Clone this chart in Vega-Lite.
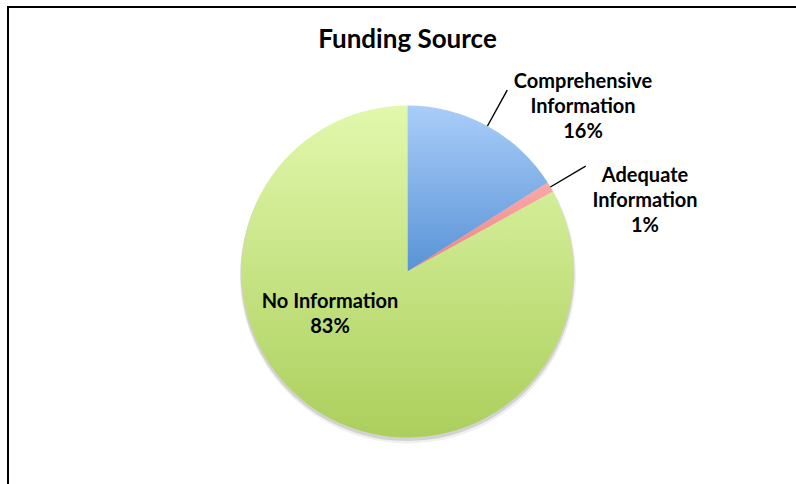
{
  "$schema": "https://vega.github.io/schema/vega-lite/v6.json",
  "width": 788,
  "height": 477,
  "autosize": {"type": "none"},
  "padding": {"left": 8, "top": 7, "right": 0, "bottom": 0},
  "background": "white",
  "view": {"stroke": "black", "strokeWidth": 2, "strokeCap": "square", "strokeDash": [788, 1265, 477, 0]},
  "title": {
    "text": "Funding Source",
    "font": "Lato",
    "fontSize": 26,
    "fontWeight": "bold",
    "color": "black",
    "anchor": "middle",
    "frame": "group",
    "baseline": "alphabetic",
    "offset": -67,
    "dx": 5.5
  },
  "data": {
    "values": [
      {"name": "Comprehensive Information", "value": 16, "order": 1},
      {"name": "Adequate Information", "value": 1, "order": 2},
      {"name": "No Information", "value": 83, "order": 3}
    ]
  },
  "transform": [
    {"window": [{"op": "sum", "field": "value", "as": "cum"}], "sort": [{"field": "order"}], "frame": [null, 0]},
    {"calculate": "datum.cum - datum.value / 2", "as": "mid"},
    {"calculate": "datum.name + ' ' + datum.value + '%'", "as": "label"},
    {"calculate": "datum.name + '|' + datum.value + '%'", "as": "label2"}
  ],
  "layer": [
    {
      "mark": {"type": "arc", "radius": 168, "x": {"expr": "width/2+6"}, "y": {"expr": "height/2+30"}, "fill": "#000000", "opacity": 0.06, "strokeWidth": 0},
      "encoding": {
        "theta": {"field": "value", "type": "quantitative", "stack": true, "scale": {"domain": [0, 100]}},
        "order": {"field": "order"}
      }
    },
    {
      "mark": {"type": "arc", "radius": 167, "x": {"expr": "width/2+5.5"}, "y": {"expr": "height/2+28.5"}, "fill": "#000000", "opacity": 0.12, "strokeWidth": 0},
      "encoding": {
        "theta": {"field": "value", "type": "quantitative", "stack": true, "scale": {"domain": [0, 100]}},
        "order": {"field": "order"}
      }
    },
    {
      "mark": {"type": "arc", "radius": 166, "x": {"expr": "width/2+5.5"}, "y": {"expr": "height/2+26"}, "strokeWidth": 0},
      "encoding": {
        "theta": {"field": "value", "type": "quantitative", "stack": true, "scale": {"domain": [0, 100]}},
        "order": {"field": "order"},
        "color": {
          "condition": [
            {"test": "datum.name === 'Comprehensive Information'", "value": {"gradient": "linear", "x1": 0, "y1": 0, "x2": 0, "y2": 1, "stops": [{"offset": 0, "color": "#aacdf9"}, {"offset": 1, "color": "#5893d6"}]}},
            {"test": "datum.name === 'Adequate Information'", "value": {"gradient": "linear", "x1": 0, "y1": 0, "x2": 0, "y2": 1, "stops": [{"offset": 0, "color": "#fba8a8"}, {"offset": 1, "color": "#ec8282"}]}}
          ],
          "value": {"gradient": "linear", "x1": 0, "y1": 0, "x2": 0, "y2": 1, "stops": [{"offset": 0, "color": "#e2f8ad"}, {"offset": 1, "color": "#abcf5c"}]}
        }
      }
    },
    {
      "transform": [{"filter": "datum.name !== 'No Information'"}],
      "mark": {"type": "arc", "innerRadius": 166, "outerRadius": 207, "x": {"expr": "width/2+5.5"}, "y": {"expr": "height/2+26"}, "fill": "transparent", "stroke": "black", "strokeWidth": 1.4},
      "encoding": {
        "theta": {"field": "mid", "type": "quantitative", "scale": {"domain": [0, 100]}},
        "theta2": {"field": "mid"}
      }
    },
    {
      "transform": [{"filter": "datum.name === 'Comprehensive Information'"}],
      "mark": {"type": "text", "radius": 207, "x": {"expr": "width/2+5.5"}, "y": {"expr": "height/2+26"}, "dx": 75.8, "dy": -7.8, "font": "Lato", "fontSize": 20, "fontWeight": "bold", "lineHeight": 25, "lineBreak": " ", "align": "center", "baseline": "middle", "color": "black"},
      "encoding": {
        "theta": {"field": "mid", "type": "quantitative", "scale": {"domain": [0, 100]}},
        "text": {"field": "label"}
      }
    },
    {
      "transform": [{"filter": "datum.name === 'Adequate Information'"}],
      "mark": {"type": "text", "radius": 207, "x": {"expr": "width/2+5.5"}, "y": {"expr": "height/2+26"}, "dx": 59.3, "dy": 9.7, "font": "Lato", "fontSize": 20, "fontWeight": "bold", "lineHeight": 25, "lineBreak": " ", "align": "center", "baseline": "middle", "color": "black"},
      "encoding": {
        "theta": {"field": "mid", "type": "quantitative", "scale": {"domain": [0, 100]}},
        "text": {"field": "label"}
      }
    },
    {
      "transform": [{"filter": "datum.name === 'No Information'"}],
      "mark": {"type": "text", "radius": 100, "x": {"expr": "width/2+5.5"}, "y": {"expr": "height/2+26"}, "dx": -26.6, "dy": -55.3, "font": "Lato", "fontSize": 20, "fontWeight": "bold", "lineHeight": 25, "lineBreak": "|", "align": "center", "baseline": "middle", "color": "black"},
      "encoding": {
        "theta": {"field": "mid", "type": "quantitative", "scale": {"domain": [0, 100]}},
        "text": {"field": "label2"}
      }
    }
  ]
}
